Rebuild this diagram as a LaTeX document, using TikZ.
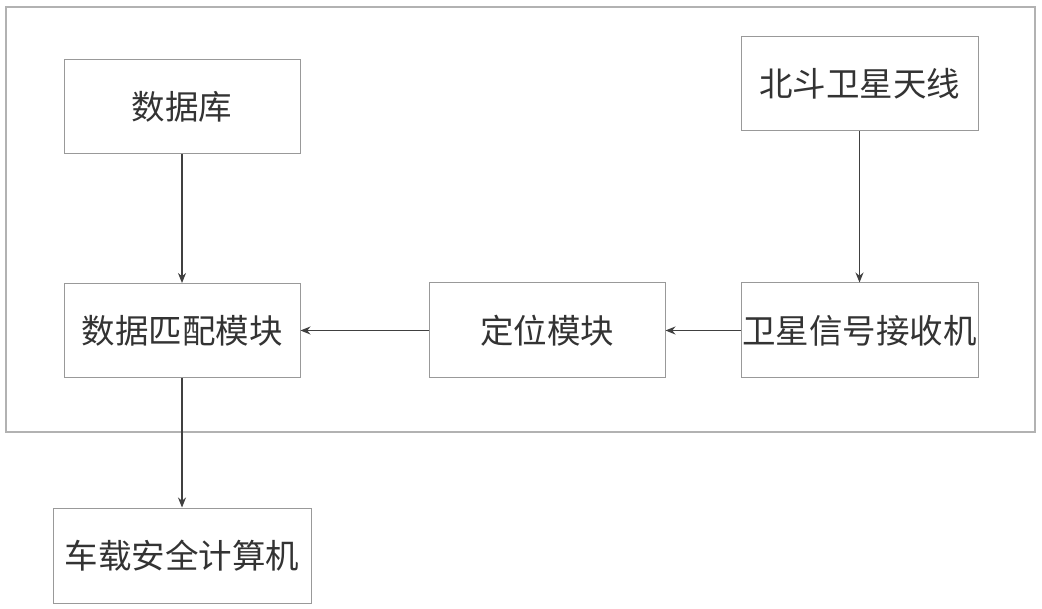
\documentclass[tikz,border=0pt]{standalone}
\usepackage{fontspec}
\newfontfamily\cjk{Noto Sans CJK SC}
\usetikzlibrary{arrows.meta}
\begin{document}
\begin{tikzpicture}[x=1pt,y=-1pt,
  box/.style={draw=black!40,line width=1pt,fill=white,inner sep=0pt},
  conn/.style={draw=black!75,line width=1.1pt,-{Stealth[length=10pt,width=8pt]}},
  lbl/.style={font=\cjk\fontsize{33.5}{38}\selectfont,text=black!80}]
\useasboundingbox[fill=white] (0,0) rectangle (1042,609);
\draw[draw=black!30,line width=1.2pt] (6,7) rectangle (1035,432);
\node[box,minimum width=236pt,minimum height=94pt] (db) at (182,107) {};
\node[lbl] at (db) {数据库};
\node[box,minimum width=237pt,minimum height=94pt] (bd) at (859.5,84) {};
\node[lbl] at (bd) {北斗卫星天线};
\node[box,minimum width=236pt,minimum height=94pt] (dm) at (182,330.5) {};
\node[lbl] at (dm) {数据匹配模块};
\node[box,minimum width=236pt,minimum height=95pt] (loc) at (547,330.5) {};
\node[lbl] at (loc) {定位模块};
\node[box,minimum width=237pt,minimum height=95pt] (rx) at (859.5,330.5) {};
\node[lbl] at (rx) {卫星信号接收机};
\node[box,minimum width=258pt,minimum height=95pt] (car) at (182,555.5) {};
\node[lbl] at (car) {车载安全计算机};
\draw[conn] (db) -- (dm);
\draw[conn] (bd) -- (rx);
\draw[conn] (rx) -- (loc);
\draw[conn] (loc) -- (dm);
\draw[conn] (dm) -- (car);
\end{tikzpicture}
\end{document}
